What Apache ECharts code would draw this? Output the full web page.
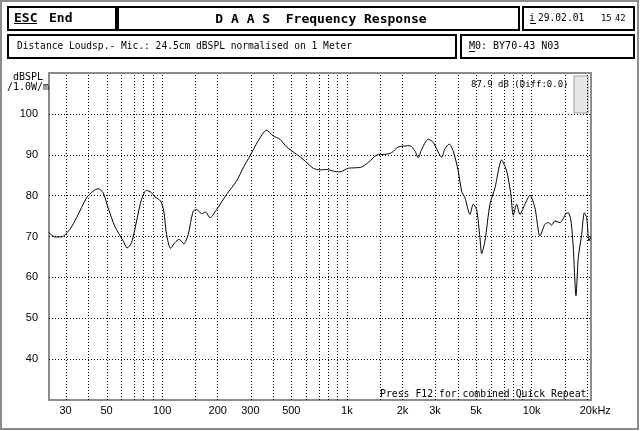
<!DOCTYPE html>
<html><head><meta charset="utf-8">
<script src="https://cdn.jsdelivr.net/npm/echarts@6/dist/echarts.min.js"></script>
<style>html,body{margin:0;padding:0;background:#fff}#c{width:640px;height:431px}</style>
</head><body><div id="c"></div><script>
const freqHz = [24.4,26.2,28.5,31.6,34.4,39.0,42.3,45.0,47.9,51.0,55.4,61.5,64.6,68.3,72.7,77.3,82.3,87.6,91.3,98.0,102,105.6,111,117.2,123.6,131.1,138.3,147.2,153.6,163.4,171.8,181.3,197.1,223.2,252.8,274.5,298.4,331,367.5,399,433.8,471.6,534.3,592.4,656.9,714.3,776.5,843,916.5,1016,1105,1201,1304,1448,1606,1746,1895,2194,2335,2432,2537,2755,2933,3256,3394,3580,3763,4006,4178,4354,4633,4828,5037,5249,5362,5587,5946,6328,6879,7321,7696,7950,8295,8644,9198,9790,10420,11090,11800,12300,12830,13370,14230,15340,15790,16320,16800,17370,17880,18650,19270,19850,20430,20900];
const splDb = [71.0,69.9,69.9,71.7,74.6,79.5,81.1,81.7,80.7,77.0,72.5,68.9,67.2,68.5,73.8,79.1,81.3,80.7,79.7,78.7,76.2,70.5,67.1,68.5,69.3,68.2,70.5,76.2,76.6,75.6,76.0,74.6,76.6,80.3,83.6,86.8,89.7,93.4,96.0,94.6,93.8,91.9,90.1,88.5,86.7,86.3,86.4,86.0,85.8,86.7,86.8,87.0,88.1,89.9,90.1,90.5,91.9,92.2,90.9,89.3,91.3,93.8,93.0,89.4,91.5,92.6,90.9,86.0,81.1,79.5,75.4,77.9,76.6,69.7,65.8,68.9,77.9,81.9,88.7,86.0,80.7,75.2,77.9,75.4,77.9,80.1,77.0,70.1,73.0,73.4,72.8,73.8,73.4,75.6,75.8,73.8,67.2,55.5,64.8,70.5,75.8,74.6,68.9,70.0];
const yTickValues = [40,50,60,70,80,90,100];
const xLabelFreqs = [30,50,100,200,300,500,1000,2000,3000,5000,10000,20000];
const xLabelTexts = ['30','50','100','200','300','500','1k','2k','3k','5k','10k','20kHz'];
const xGridFreqs = [30,40,50,60,70,80,90,100,150,200,300,400,500,600,700,800,900,1000,1500,2000,3000,4000,5000,6000,7000,8000,9000,10000,15000,20000];
const fMin = 24.4, fMax = 20950, dbMin = 30, dbMax = 110;

const chart = echarts.init(document.getElementById('c'), null, {renderer: 'canvas'});
const mono = 'DejaVu Sans Mono';
const gridDot = {color: '#000', width: 1, type: [1, 2]};
function lbl(v) {
  for (let i = 0; i < xLabelFreqs.length; i++) {
    if (Math.abs(Math.log10(xLabelFreqs[i]) - v) < 1e-6) {
      return xLabelTexts[i] === '20kHz' ? '{hz|20kHz}' : xLabelTexts[i];
    }
  }
  return '';
}
function txt(x, y, s, size, bold, align) {
  return {type: 'text', x: x, y: y, silent: true, style: {text: s, fill: '#000', font: (bold ? 'bold ' : '') + size + 'px "' + mono + '"', textAlign: align || 'left', textVerticalAlign: 'middle'}};
}
function box(x, y, w, h) {
  return {type: 'rect', silent: true, shape: {x: x, y: y, width: w, height: h}, style: {fill: 'none', stroke: '#000', lineWidth: 2}};
}
function uline(x1, x2, y) {
  return {type: 'line', silent: true, shape: {x1: x1, y1: y, x2: x2, y2: y}, style: {stroke: '#000', lineWidth: 1}};
}
chart.setOption({
  animation: false,
  backgroundColor: '#fff',
  grid: {left: 49, top: 73, width: 542, height: 327, show: true, borderColor: '#8c8c8c', borderWidth: 2, backgroundColor: 'transparent'},
  xAxis: {
    type: 'value', min: Math.log10(fMin), max: Math.log10(fMax),
    axisLine: {show: false}, axisTick: {show: false}, splitLine: {show: false},
    axisLabel: {
      customValues: xLabelFreqs.map(f => Math.log10(f)),
      formatter: lbl, margin: 5, color: '#000', fontSize: 11, fontFamily: 'Liberation Sans',
      rich: {hz: {padding: [0, 0, 0, 16], fontSize: 11, fontFamily: 'Liberation Sans', color: '#000'}}
    }
  },
  yAxis: {
    type: 'value', min: dbMin, max: dbMax, interval: 10,
    axisLine: {show: false}, axisTick: {show: false},
    splitLine: {show: true, showMinLine: false, showMaxLine: false, lineStyle: gridDot},
    axisLabel: {
      formatter: v => (yTickValues.indexOf(v) >= 0 ? String(v) : ''),
      margin: 11, color: '#000', fontSize: 11, fontFamily: 'Liberation Sans'
    }
  },
  series: [{
    type: 'line', showSymbol: false, smooth: 0.25, z: 5,
    lineStyle: {color: '#000', width: 1},
    data: freqHz.map((f, i) => [Math.log10(f), splDb[i]]),
    markLine: {
      silent: true, symbol: ['none', 'none'], label: {show: false}, animation: false,
      lineStyle: gridDot, emphasis: {disabled: true},
      data: xGridFreqs.map(f => ({xAxis: Math.log10(f)}))
    }
  }],
  graphic: [
    {type: 'rect', silent: true, shape: {x: 1, y: 1, width: 637, height: 428}, style: {fill: 'none', stroke: '#8c8c8c', lineWidth: 2}},
    box(8, 7, 108, 23), box(118, 7, 401, 23), box(523, 7, 111, 23),
    box(8, 35, 448, 23), box(461, 35, 173, 23),
    txt(14, 18.5, 'ESC', 13, true), uline(14, 37, 23.5),
    txt(49, 18.5, 'End', 13, true),
    txt(321, 19.5, 'D A A S  Frequency Response', 13, true, 'center'),
    txt(529, 18.5, 'i', 10, false), uline(530, 536, 23.5),
    txt(538, 18.5, '29.02.01', 9.6, false),
    txt(601, 18.5, '15', 8.8, false),
    txt(615, 18.5, '42', 8.8, false),
    txt(17, 46.5, 'Distance Loudsp.- Mic.: 24.5cm dBSPL normalised on 1 Meter', 9.6, false),
    txt(469, 46.5, 'M0: BY70-43 N03', 10, false), uline(469, 475, 51.5),
    txt(13, 77, 'dBSPL', 10, false),
    txt(7, 87, '/1.0W/m', 10, false),
    txt(471, 85, '87.9 dB (Diff:0.0)', 9, false),
    {type: 'rect', silent: true, shape: {x: 574, y: 76, width: 14, height: 37}, style: {fill: '#e6e6e6', stroke: '#9a9a9a', lineWidth: 1}},
    txt(380, 394.5, 'Press F12 for combined Quick Repeat', 9.8, false)
  ]
});
</script></body></html>
